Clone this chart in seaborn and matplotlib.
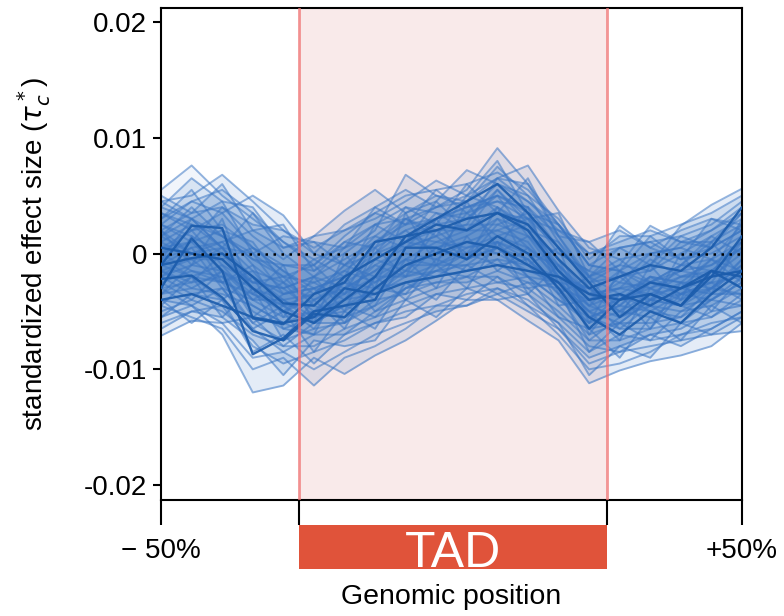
import numpy as np
import pandas as pd
import matplotlib
matplotlib.use("Agg")
import matplotlib.pyplot as plt
import matplotlib.transforms as mtransforms
from matplotlib.patches import Rectangle
import seaborn as sns

sns.set_style("ticks")
plt.rcParams["font.family"] = ["Liberation Sans", "DejaVu Sans"]
plt.rcParams["text.color"] = "black"
plt.rcParams["axes.labelcolor"] = "black"
plt.rcParams["xtick.color"] = "black"
plt.rcParams["ytick.color"] = "black"

# genomic bins: 5 bins before the TAD, 10 inside, 5 after
positions = list(range(20))
tad_start, tad_end = 4.5, 14.6
x_tick_pos = [0, tad_start, tad_end, 19]
x_tick_labels = ["\u2212 50%", "", "", "+50%"]
y_ticks = [0.02, 0.01, 0.0, -0.01, -0.02]
y_tick_labels = ["0.02", "0.01", "0", "-0.01", "-0.02"]

# effect size per bin (x 1e-3)
light_lines = [
    [5.5, 7.6, 5.0, 3.0, 1.0, -1.0, 1.5, 3.5, 5.0, 5.5, 6.0, 7.0, 5.5, 2.5, -1.0, 0.5, 1.0, 1.5, 2.5, 4.5],
    [4.5, 5.0, 6.8, 4.5, 2.0, 0.5, 2.0, 3.0, 4.5, 6.3, 5.0, 6.5, 7.6, 3.7, 0.5, -0.5, 0.0, 0.5, 2.0, 3.5],
    [3.0, 4.5, 3.5, 5.0, 3.3, 0.0, -1.0, 1.0, 2.5, 4.0, 5.5, 9.1, 6.0, 1.5, -2.0, -1.0, 2.4, 1.0, 0.5, 2.0],
    [2.0, 3.5, 4.0, 1.5, -0.5, 1.5, 3.7, 5.5, 3.5, 4.5, 7.2, 6.0, 5.0, 1.0, -3.0, -2.0, -1.5, 0.0, 1.5, 3.0],
    [3.5, 2.0, 2.5, 0.5, -1.0, -1.5, 0.0, 2.0, 6.8, 5.0, 4.0, 5.0, 3.5, 0.0, -1.5, 2.4, 0.5, -0.5, 0.0, 1.5],
    [2.5, 4.5, 5.5, 3.5, 1.0, -0.5, 0.5, 2.5, 4.0, 3.5, 3.0, 5.0, 4.0, 0.5, -2.5, -1.0, -1.5, 1.0, 2.0, 4.0],
    [4.0, 3.0, 1.5, -0.5, -2.0, -1.0, 1.0, 2.5, 3.0, 4.0, 4.5, 6.5, 6.0, 2.5, -1.0, -1.5, 0.0, -1.0, 1.0, 3.5],
    [1.0, 2.5, 1.5, 0.0, -2.0, -2.5, -1.5, 0.5, 2.0, 3.0, 3.5, 4.5, 4.0, 1.5, -2.5, -2.0, -1.0, 2.4, 4.2, 5.6],
    [1.5, 0.0, 1.0, 2.0, 0.5, 1.5, 2.0, 3.5, 2.5, 3.0, 4.0, 4.5, 3.0, 2.0, 0.0, 0.5, 1.0, -0.5, 0.5, 2.0],
    [0.5, 1.0, 2.0, -1.0, -3.0, -2.0, -0.5, 1.0, 1.5, 2.5, 3.0, 5.5, 2.5, -0.5, -3.5, -3.0, -2.5, -1.5, -1.0, 1.0],
    [-2.0, 0.0, -0.5, 0.5, -1.5, -3.0, -2.0, 0.0, 3.0, 2.0, 2.5, 6.5, 4.5, 2.5, -1.0, -1.5, -2.5, -1.0, -0.5, -1.5],
    [2.5, 1.5, 0.0, -2.0, -3.5, -3.0, -2.0, -0.5, 1.0, 2.0, 2.0, 3.5, 3.0, 0.5, -2.0, -3.5, -2.0, -2.5, -0.5, 2.5],
    [1.5, 3.0, 0.5, -3.0, -4.5, -3.5, -1.0, 0.0, 1.0, 0.5, 1.5, 3.0, 2.0, -2.0, -3.0, -4.5, -2.5, -3.5, -1.5, 0.5],
    [-0.5, 0.5, 1.0, -1.5, -2.5, -4.0, -2.5, -1.0, 0.5, 1.5, 2.5, 2.5, 1.5, -1.0, -4.0, -2.5, -3.0, -2.0, -2.0, 0.0],
    [-1.5, -3.0, -1.5, -3.0, -4.0, -3.5, -1.5, -2.5, -0.5, -1.0, 0.5, 1.0, -0.5, -3.0, -4.0, -3.0, -3.5, -2.0, -1.5, 0.5],
    [0.0, 1.0, -1.5, -3.5, -5.0, -4.0, -3.0, -1.5, 0.0, -0.5, 1.0, 2.0, 1.0, -2.5, -5.0, -4.0, -3.0, -4.0, -2.0, -1.5],
    [-1.5, -0.5, -0.5, -2.5, -3.0, -5.0, -3.5, -2.0, -0.5, 1.0, 0.5, 1.5, 0.5, -1.5, -4.5, -3.5, -4.0, -2.5, -3.0, -1.0],
    [-2.0, -1.0, 0.5, -2.0, -4.0, -5.5, -4.0, -2.5, -1.0, 0.0, 0.0, 1.0, 0.0, -1.0, -3.5, -5.0, -3.5, -3.0, -3.5, -0.5],
    [0.0, -1.5, -2.0, -4.5, -6.0, -5.0, -4.0, -3.5, -1.5, -2.0, -0.5, 0.5, -1.0, -2.0, -6.5, -6.0, -4.0, -4.5, -3.0, -1.0],
    [-1.0, -2.0, -1.0, -4.0, -5.5, -5.0, -2.5, -3.0, -1.5, 0.5, -0.5, 0.5, -0.5, -3.0, -5.5, -4.5, -5.0, -3.5, -2.5, -2.0],
    [-2.5, -1.5, -2.5, -3.5, -4.5, -6.0, -4.5, -3.5, -2.0, -1.0, 0.0, 0.0, -1.5, -2.5, -4.5, -5.5, -4.0, -4.5, -4.0, -2.5],
    [-3.0, -2.5, -2.0, -5.0, -6.5, -5.5, -5.0, -3.0, -2.5, -1.5, -1.0, -0.5, -1.0, -3.5, -6.0, -5.0, -5.5, -4.0, -3.0, -3.5],
    [-3.5, -3.0, -3.5, -4.5, -6.0, -7.0, -5.5, -4.5, -3.0, -2.0, -1.5, -1.0, -2.0, -4.0, -5.5, -6.5, -4.5, -5.0, -4.5, -3.0],
    [-4.0, -4.5, -3.0, -6.0, -7.5, -6.5, -6.0, -4.0, -3.5, -2.5, -2.5, -1.5, -2.5, -4.5, -7.0, -6.0, -6.0, -5.5, -4.0, -4.5],
    [-3.5, -2.0, -4.0, -6.5, -8.5, -7.0, -7.0, -5.0, -4.0, -3.0, -2.0, -2.0, -3.5, -5.5, -8.0, -8.5, -7.0, -6.5, -5.0, -4.5],
    [-5.0, -4.0, -5.0, -7.0, -8.0, -8.0, -6.5, -5.5, -4.5, -3.5, -3.0, -2.5, -3.0, -5.0, -7.5, -7.5, -6.5, -6.0, -5.5, -4.0],
    [-6.0, -5.0, -4.5, -8.0, -9.5, -8.5, -7.5, -6.0, -5.0, -4.5, -3.5, -3.0, -4.0, -6.0, -8.5, -7.0, -7.5, -7.0, -6.0, -5.5],
    [-7.1, -5.8, -6.0, -9.0, -8.5, -10.0, -8.5, -7.0, -6.0, -5.0, -4.5, -3.5, -5.0, -6.5, -9.5, -8.5, -8.0, -7.5, -7.0, -6.7],
    [-4.5, -5.5, -6.5, -10.0, -9.0, -11.4, -9.0, -8.0, -6.5, -4.5, -4.5, -3.0, -4.5, -7.0, -10.0, -9.5, -8.5, -7.0, -6.5, -5.0],
    [-5.5, -4.5, -7.0, -12.0, -11.4, -9.0, -10.4, -8.8, -7.5, -5.8, -4.0, -4.0, -5.8, -7.5, -11.2, -10.1, -9.3, -8.8, -8.0, -6.0],
    [3.0, 5.5, 2.0, 1.0, -2.5, -0.5, -2.0, 2.5, 1.0, 4.5, 2.0, 5.5, 3.0, 3.5, -2.0, 0.5, -1.0, 1.5, 0.5, 3.5],
    [-3.0, 1.5, -2.5, -1.0, -5.5, -2.0, -5.0, 0.5, -2.0, 3.0, -0.5, 4.0, -1.0, 0.5, -6.0, -1.5, -4.5, 0.0, -3.5, 1.5],
    [2.0, -1.0, 3.0, -3.5, -1.0, -6.0, 0.0, -3.0, 3.5, -1.0, 4.5, 0.5, 4.0, -3.5, -2.0, -5.5, -1.0, -4.0, 1.0, -2.0],
    [-4.5, -2.0, -5.5, -3.0, -7.5, -4.0, -6.5, -2.0, -4.0, -1.0, -3.0, 1.0, -3.5, -1.0, -7.0, -3.5, -6.5, -2.5, -5.0, -2.0],
    [5.0, 3.5, 6.0, 2.0, 2.5, -1.5, 1.0, 0.5, 4.0, 2.5, 6.0, 3.5, 6.5, 1.5, 1.0, -1.5, 1.5, -0.5, 3.0, 2.0],
    [-0.5, 3.0, 0.5, 0.0, -3.5, -2.5, -4.0, -0.5, -1.5, 2.0, 0.0, 3.0, 0.5, -2.0, -4.5, -2.0, -4.0, -1.0, -1.5, -3.0],
    [-5.5, -3.5, -3.0, -6.5, -5.0, -8.5, -5.0, -6.5, -2.5, -4.0, -1.0, -2.5, -2.0, -5.5, -6.5, -9.0, -5.5, -7.5, -4.5, -6.0],
    [1.0, -0.5, -2.5, -1.5, -4.5, -6.5, -3.0, 0.0, 2.0, 0.0, 3.5, 1.5, 2.5, -0.5, -5.5, -4.5, -2.0, -3.5, -4.0, -2.5],
    [-2.5, -4.0, -1.5, -5.5, -3.5, -3.0, -6.0, -4.5, -0.5, -3.0, 1.5, -1.5, 0.5, -4.5, -4.0, -6.5, -6.5, -3.5, -2.5, -4.0],
    [4.0, 6.5, 4.5, 4.0, 0.5, 1.0, -1.0, 1.5, 3.5, 5.0, 4.5, 7.5, 5.0, 3.0, -0.5, 1.5, 1.5, 2.5, 3.5, 5.0],
    [-1.0, 0.5, -3.0, -4.0, -2.5, -5.5, -4.5, -3.0, -3.5, -0.5, -1.5, 0.5, -2.0, -4.0, -6.0, -3.5, -5.0, -5.5, -3.0, -1.5],
    [0.5, 2.0, 3.5, 0.5, -1.5, -3.5, -1.0, -2.0, 1.5, 1.0, 2.0, 4.0, 2.5, -1.0, -3.5, -3.0, -0.5, -2.0, -1.0, 0.5],
    [-6.5, -5.0, -5.5, -7.5, -10.5, -7.5, -8.0, -7.5, -4.0, -5.5, -3.0, -4.0, -3.5, -6.5, -9.0, -8.0, -9.0, -6.0, -7.0, -5.5],
    [2.5, 1.0, 4.0, 2.5, 2.0, 0.0, 2.5, 4.0, 2.5, 5.5, 3.5, 6.0, 4.5, 2.0, 1.0, 2.0, 0.5, 2.0, 3.0, 2.5],
    [-2.0, -3.5, -4.0, -2.0, -6.5, -7.0, -2.0, -5.0, -3.0, -1.5, -2.0, -0.5, -3.0, -2.5, -5.0, -7.5, -3.0, -4.5, -5.5, -3.5],
    [3.5, 2.5, 0.5, 3.5, 0.0, -2.0, 0.5, 1.5, 0.5, 3.0, 4.0, 5.0, 1.5, 0.0, -1.5, -2.5, 0.0, 0.5, -0.5, 1.0],
    [-3.5, -1.0, -1.5, -4.0, -4.0, -6.0, -6.0, -2.0, -2.0, -1.5, 0.0, -1.0, -0.5, -3.5, -7.5, -5.5, -4.5, -6.0, -4.0, -2.0],
    [0.0, 2.0, -1.0, -2.5, -2.0, -4.5, -2.5, -4.0, 0.5, 1.5, -0.5, 2.5, 3.5, -2.5, -3.0, -4.0, -2.0, -2.5, -2.5, 1.0],
    [1.5, 4.0, 1.5, -0.5, -1.0, -1.0, -3.5, 1.0, 3.0, 1.5, 5.0, 4.0, 2.0, 1.0, -2.0, -0.5, -2.5, -1.0, 1.5, 0.0],
    [-4.0, -6.0, -4.0, -8.5, -7.0, -9.5, -7.0, -6.0, -5.5, -3.5, -4.0, -2.0, -4.5, -6.0, -10.5, -8.0, -7.0, -8.0, -6.5, -5.0],
    [-1.5, -2.5, 0.0, -3.0, -5.0, -3.0, -3.5, -1.0, -2.0, 0.5, 1.0, 0.0, 1.5, -2.0, -3.0, -5.0, -2.5, -3.0, -0.5, -2.5],
    [2.0, 0.0, 0.5, -2.5, -3.0, -2.0, -3.0, -1.5, 1.0, 3.5, 2.0, 2.0, 3.0, -1.5, -3.5, -1.5, -3.0, -1.5, -2.0, 3.0],
    [-3.0, -4.5, -6.0, -5.5, -8.0, -6.0, -4.5, -5.5, -3.0, -2.5, -2.0, -3.5, -2.5, -3.0, -8.5, -6.0, -7.5, -5.0, -3.5, -3.5],
    [4.5, 3.0, 4.5, 0.0, 1.5, 1.0, 0.5, 4.0, 5.5, 4.0, 5.0, 8.0, 3.5, 2.5, 0.0, 1.0, 2.0, 1.0, 1.0, 2.5],
    [-0.5, -2.0, -2.5, -6.0, -4.5, -4.5, -5.5, -3.0, -1.0, -1.0, -1.0, 1.0, -2.0, -2.5, -5.0, -6.0, -4.0, -3.5, -3.0, -0.5],
]

dark_lines = [
    [-1.0, 2.4, 2.2, -5.6, -6.1, -3.5, -2.5, 1.0, 1.5, 2.0, 3.0, 3.5, 2.5, -0.5, -3.0, -2.0, -1.0, -1.5, 0.5, 4.0],
    [-2.2, -1.9, -3.8, -6.7, -7.5, -5.2, -5.5, -3.0, -1.0, 0.0, 1.0, 0.5, -1.0, -2.5, -5.5, -7.0, -5.0, -6.0, -3.5, -1.5],
    [-1.0, -0.4, 0.0, -2.0, -4.3, -4.5, -2.0, -0.5, 1.0, 2.5, 2.0, 3.5, 2.0, -1.5, -4.0, -3.5, -4.5, -3.0, -2.0, -1.5],
    [-3.0, 1.3, -1.5, -8.7, -7.3, -5.0, -4.5, -4.0, 0.5, 0.5, -0.5, 1.5, 0.0, -3.0, -6.5, -4.0, -3.5, -4.5, -1.5, -2.0],
    [-4.0, -3.5, -4.5, -5.5, -6.0, -5.5, -3.0, -3.5, -2.5, -2.0, -1.5, -1.0, -1.5, -2.0, -3.5, -4.0, -2.5, -3.0, -1.5, -3.0],
    [0.5, 0.0, -0.5, -3.0, -5.0, -6.0, -4.0, -2.0, 1.5, 3.0, 4.5, 6.0, 3.5, 0.5, -2.5, -5.5, -3.5, -4.5, -2.0, 1.5],
]


def to_long(lines):
    rows = []
    for i, vals in enumerate(lines):
        for p, v in zip(positions, vals):
            rows.append({"line": i, "pos": p, "value": v * 1e-3})
    return pd.DataFrame(rows)


light_df = to_long(light_lines)
dark_df = to_long(dark_lines)

fig = plt.figure(figsize=(7.84, 6.16), dpi=100)
ax = fig.add_axes([0.2054, 0.188, 0.741, 0.799])

# TAD shading
ax.axvspan(tad_start, tad_end, color="#f9eaea", zorder=0, lw=0)

# soft fills between neighbouring profiles
for a, b in zip(light_lines[:-1], light_lines[1:]):
    ax.fill_between(positions, np.array(a) * 1e-3, np.array(b) * 1e-3,
                    color="#4f88cc", alpha=0.08, lw=0, zorder=1)

sns.lineplot(data=light_df, x="pos", y="value", units="line", estimator=None,
             color="#3a76c4", alpha=0.55, lw=1.4, ax=ax, zorder=2, legend=False)
sns.lineplot(data=dark_df, x="pos", y="value", units="line", estimator=None,
             color="#1b5cac", alpha=0.9, lw=1.7, ax=ax, zorder=3, legend=False)

for xv in [tad_start, tad_end]:
    ax.axvline(xv, color="#f07272", lw=2, alpha=0.75, zorder=4)
ax.axhline(0, color="black", ls=(0, (1, 2.2)), lw=1.8, zorder=5)

ax.set_xlim(0, 19)
ax.set_ylim(-0.0213, 0.0212)
ax.set_yticks(y_ticks)
ax.set_yticklabels(y_tick_labels, fontsize=20)
ax.set_xticks(x_tick_pos)
ax.set_xticklabels(x_tick_labels, fontsize=20)
ax.tick_params(axis="x", direction="out", length=18, width=1.5, pad=9)
ax.tick_params(axis="y", direction="out", length=6, width=1.5, pad=4)
for s in ax.spines.values():
    s.set_linewidth(1.5)
    s.set_color("black")

ax.set_xlabel("")
ax.set_ylabel(r"standardized effect size ($\tau_c^*$)", fontsize=20, labelpad=22)

# TAD bar below the axis
trans = mtransforms.blended_transform_factory(ax.transData, ax.transAxes)
ax.add_patch(Rectangle((tad_start, -0.140), tad_end - tad_start, 0.089,
                       transform=trans, clip_on=False, color="#e0533a", lw=0))
ax.text((tad_start + tad_end) / 2, -0.136, "TAD", transform=trans,
        ha="center", va="baseline", color="white", fontsize=36)
ax.text(0.5, -0.197, "Genomic position", transform=ax.transAxes,
        ha="center", va="center", fontsize=20.5)

fig.savefig("out.png", dpi=100)
